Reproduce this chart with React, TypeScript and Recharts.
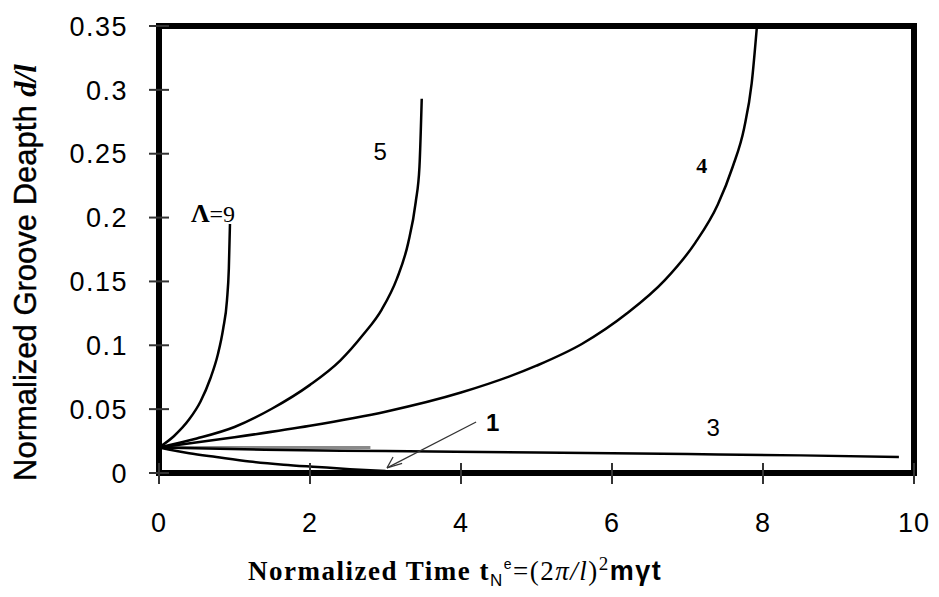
import React from "react";
import { LineChart, Line, XAxis, YAxis, ReferenceArea, ReferenceDot, ReferenceLine } from "recharts";

// Tick values
const xTicks = [0, 2, 4, 6, 8, 10];
const yTicks = [0, 0.05, 0.1, 0.15, 0.2, 0.25, 0.3, 0.35];

// Curve Λ=9
const l9T = [0, 0.2, 0.4, 0.55, 0.68, 0.78, 0.85, 0.9, 0.925, 0.94];
const l9D = [0.02, 0.029, 0.042, 0.056, 0.074, 0.093, 0.113, 0.135, 0.16, 0.195];
// Curve 5
const l5T = [0, 0.5, 1, 1.5, 2, 2.4, 2.7, 2.95, 3.15, 3.3, 3.4, 3.45, 3.48];
const l5D = [0.02, 0.027, 0.036, 0.0505, 0.069, 0.088, 0.108, 0.128, 0.152, 0.18, 0.212, 0.24, 0.293];
// Curve 4
const l4T = [0, 1, 2, 3, 4, 5, 5.6, 6.2, 6.7, 7.1, 7.4, 7.6, 7.75, 7.85, 7.92];
const l4D = [0.02, 0.028, 0.037, 0.048, 0.063, 0.084, 0.101, 0.125, 0.151, 0.18, 0.21, 0.24, 0.27, 0.305, 0.35];
// Curve 3
const l3T = [0, 1.4, 3, 5, 7, 8.5, 9.8];
const l3D = [0.02, 0.0182, 0.0172, 0.016, 0.0148, 0.0138, 0.0125];
// Curve 1
const l1T = [0, 0.4, 0.76, 1.2, 1.65, 2.1, 2.53, 3.0];
const l1D = [0.02, 0.0155, 0.0125, 0.009, 0.0065, 0.0047, 0.003, 0.0015];
// Flat grey segment
const flatT = [0, 2.8];
const flatD = [0.02, 0.02];

// Curve labels
const labelTexts = ["Λ=9", "5", "4", "1", "3"];
const labelT = [0.715, 2.93, 7.19, 4.42, 7.34];
const labelD = [0.203, 0.252, 0.241, 0.04, 0.036];

// Arrow for label "1"
const arrowStart = { x: 4.2, y: 0.04 };
const arrowTip = { x: 3.02, y: 0.004 };
const arrowBarb1 = { x: 3.1, y: 0.0125 };
const arrowBarb2 = { x: 3.22, y: 0.0075 };

const zip = (ts: number[], ds: number[]) => ts.map((t, i) => ({ t, d: ds[i] }));

const SANS = "'Liberation Sans', Arial, sans-serif";
const SERIF = "'Liberation Serif', 'Times New Roman', serif";

const YTick = (props: any) => {
  const { x, y, payload } = props;
  return (
    <g>
      <line x1={x + 21} x2={x + 41} y1={y} y2={y} stroke="#333" strokeWidth={2} />
      <text x={x} y={y} dy="0.36em" textAnchor="end" fontSize={27} letterSpacing={1.5} fontFamily={SANS} fill="#000">
        {String(payload.value)}
      </text>
    </g>
  );
};

const XTick = (props: any) => {
  const { x, y, payload } = props;
  return (
    <g>
      <line x1={x} x2={x} y1={y - 50} y2={y - 29} stroke="#333" strokeWidth={2} />
      <text x={x} y={y} dy="0.72em" textAnchor="middle" fontSize={27} letterSpacing={1} fontFamily={SANS} fill="#000">
        {String(payload.value)}
      </text>
    </g>
  );
};

const YLabel = (props: any) => {
  const vb = props.viewBox || { x: 0, y: 18, width: 151, height: 447 };
  const cx = vb.x + 17;
  const cy = vb.y + vb.height / 2 + 23;
  return (
    <text
      x={cx}
      y={cy}
      transform={`rotate(-90, ${cx}, ${cy})`}
      textAnchor="middle"
      dominantBaseline="central"
      fontSize={31}
      fontFamily={SANS}
      fill="#000"
      stroke="#000"
      strokeWidth={0.4}
    >
      Normalized Groove Deapth{" "}
      <tspan fontFamily={SERIF} fontStyle="italic" fontWeight="bold" strokeWidth={0}>d/l</tspan>
    </text>
  );
};

const XLabel = (props: any) => {
  const vb = props.viewBox || { x: 151, y: 465, width: 755, height: 60 };
  const x0 = vb.x + 89;
  const y0 = vb.y + 107;
  return (
    <text x={x0} y={y0} fontSize={27} fontFamily={SERIF} fontWeight="bold" fill="#000" letterSpacing={1.5}>
      Normalized Time t
      <tspan fontSize={17} dy={6} fontFamily={SANS} fontWeight="normal">N</tspan>
      <tspan fontSize={14} dy={-17} fontFamily={SANS} fontWeight="normal">e</tspan>
      <tspan dy={11} fontWeight="normal">=(2</tspan>
      <tspan fontStyle="italic" fontWeight="normal">π/l</tspan>
      <tspan fontWeight="normal">)</tspan>
      <tspan fontSize={19} dy={-10} fontWeight="normal">2</tspan>
      <tspan dy={10} fontFamily={SANS}>mγt</tspan>
    </text>
  );
};

const labelShape = (idx: number) => (props: any) => {
  const { cx, cy } = props;
  if (idx === 0) {
    return (
      <text x={cx} y={cy} dy="0.35em" textAnchor="middle" fontSize={24} fontFamily={SERIF} fill="#000">
        <tspan fontWeight="bold" fontSize={26}>Λ</tspan>=9
      </text>
    );
  }
  const serif = idx === 2;
  return (
    <text
      x={cx}
      y={cy}
      dy="0.36em"
      textAnchor="middle"
      fontSize={serif ? 22 : 24}
      fontFamily={serif ? SERIF : SANS}
      fontWeight={serif || idx === 3 ? "bold" : "normal"}
      fill="#000"
    >
      {labelTexts[idx]}
    </text>
  );
};

export default function App() {
  return (
    <div style={{ width: 931, height: 589 }}>
      <LineChart width={931} height={589} margin={{ top: 18, right: 25, bottom: 64, left: 0 }}>
        <XAxis
          type="number"
          dataKey="t"
          domain={[0, 10]}
          ticks={xTicks}
          axisLine={false}
          tickLine={false}
          tickSize={10}
          tickMargin={30}
          height={60}
          tick={<XTick />}
          allowDataOverflow
          label={{ content: <XLabel /> }}
        />
        <YAxis
          type="number"
          dataKey="d"
          domain={[0, 0.35]}
          ticks={yTicks}
          axisLine={false}
          tickLine={false}
          tickSize={10}
          tickMargin={21}
          width={151}
          tick={<YTick />}
          allowDataOverflow
          label={{ content: <YLabel /> }}
        />
        <ReferenceArea x1={0} x2={10} y1={0} y2={0.35} fill="none" stroke="#000" strokeWidth={6} ifOverflow="visible" />
        <Line data={zip(flatT, flatD)} dataKey="d" stroke="#8a8a8a" strokeWidth={3} dot={false} isAnimationActive={false} />
        <Line data={zip(l3T, l3D)} dataKey="d" type="monotone" stroke="#000" strokeWidth={2.5} dot={false} isAnimationActive={false} />
        <Line data={zip(l1T, l1D)} dataKey="d" type="monotone" stroke="#000" strokeWidth={2.5} dot={false} isAnimationActive={false} />
        <Line data={zip(l4T, l4D)} dataKey="d" type="monotone" stroke="#000" strokeWidth={2.5} dot={false} isAnimationActive={false} />
        <Line data={zip(l5T, l5D)} dataKey="d" type="monotone" stroke="#000" strokeWidth={2.5} dot={false} isAnimationActive={false} />
        <Line data={zip(l9T, l9D)} dataKey="d" type="monotone" stroke="#000" strokeWidth={2.5} dot={false} isAnimationActive={false} />
        <ReferenceLine segment={[arrowStart, arrowTip]} stroke="#333" strokeWidth={1.2} />
        <ReferenceLine segment={[arrowTip, arrowBarb1]} stroke="#333" strokeWidth={1.2} />
        <ReferenceLine segment={[arrowTip, arrowBarb2]} stroke="#333" strokeWidth={1.2} />
        {labelTexts.map((txt, i) => (
          <ReferenceDot key={txt} x={labelT[i]} y={labelD[i]} r={0} shape={labelShape(i)} />
        ))}
      </LineChart>
    </div>
  );
}
